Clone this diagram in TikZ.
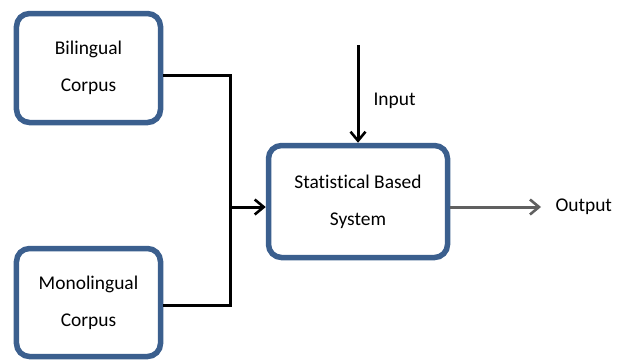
\documentclass[tikz,border=0pt]{standalone}
\usepackage{fontspec}
\setmainfont{Carlito}[Ligatures=NoCommon]
\usetikzlibrary{arrows.meta}
\definecolor{boxblue}{HTML}{3B5F8E}
\definecolor{outgray}{HTML}{606060}
\tikzset{
  blk/.style={draw=boxblue, line width=5.5bp, rounded corners=13bp, fill=white, align=center, font=\fontsize{19.5}{37}\selectfont},
  conn/.style={draw=black, line width=3bp},
  arr/.style={conn, -{Straight Barb[length=9bp,width=15bp,line width=2.6bp]}},
  lbl/.style={font=\fontsize{19.5}{22}\selectfont}
}
\begin{document}
\begin{tikzpicture}[x=1bp,y=-1bp]
\useasboundingbox (0,0) rectangle (625,362);
\node[blk, minimum width=144bp, minimum height=109bp] (bi) at (88.5,68) {Bilingual\\Corpus};
\node[blk, minimum width=144bp, minimum height=108bp] (mono) at (88.5,302.5) {Monolingual\\Corpus};
\node[blk, minimum width=179bp, minimum height=112bp] (sys) at (358,201.5) {Statistical Based\\System};
\coordinate (j) at (230,207);
\coordinate (inp) at (358,45);
\coordinate (out) at (541,207);
\draw[conn] (bi.east |- 0,75) -| (j);
\draw[conn] (mono.east |- 0,305) -| (j);
\draw[arr] (j) -- (sys.west |- j);
\draw[arr] (inp) -- (sys.north);
\draw[conn, draw=outgray, line width=3bp, -{Straight Barb[length=9bp,width=15bp,line width=2.6bp]}] (sys.east |- out) -- (out);
\node[lbl, anchor=west] (il) at (370,101) {Input};
\node[lbl, anchor=west] (ol) at (552,207) {Output};
\end{tikzpicture}
\end{document}
